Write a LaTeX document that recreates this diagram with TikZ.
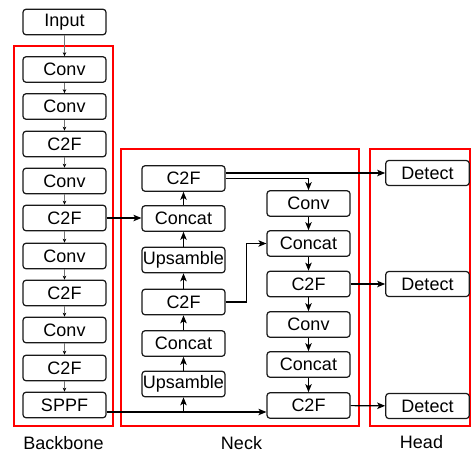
\documentclass[tikz,border=0pt]{standalone}
\usepackage{fontspec}
\setmainfont{Liberation Sans}
\usetikzlibrary{arrows.meta}

\tikzset{
	blk/.style = {draw = black!90, line width = 1.2pt, rounded corners = 3pt, minimum width = 83pt, minimum height = 25.5pt, inner sep = 0pt, font = \fontsize{18}{21}\selectfont},
	frame/.style = {draw = red, line width = 1.8pt},
	thinarr/.style = {draw = black!55, line width = 0.6pt, -{Stealth[length = 4pt, width = 3.5pt, color = black]}},
	arr/.style = {line width = 1.1pt, -{Stealth[length = 8pt, width = 6.5pt, inset = 2pt]}},
	lbl/.style = {font = \fontsize{18}{21}\selectfont}
}

\begin{document}
\begin{tikzpicture}[x = 1pt, y = -1pt]
		\useasboundingbox (0,0) rectangle (471,455);
		% frames
		\draw[frame] (14,46) rectangle (113,426);
		\draw[frame] (121,149) rectangle (359,426);
		\draw[frame] (370,149) rectangle (470,426);
		\node[lbl] (lbb) at (63.5,443) {Backbone};
		\node[lbl] (lnk) at (241.5,443) {Neck};
		\node[lbl] (lhd) at (421.5,442) {Head};
		% backbone
		\node[blk] (in) at (64.5,22) {Input};
		\node[blk] (b1) at (64.5,69.5) {Conv};
		\node[blk] (b2) at (64.5,106.5) {Conv};
		\node[blk] (b3) at (64.5,144) {C2F};
		\node[blk] (b4) at (64.5,181) {Conv};
		\node[blk] (b5) at (64.5,218) {C2F};
		\node[blk] (b6) at (64.5,256) {Conv};
		\node[blk] (b7) at (64.5,293) {C2F};
		\node[blk] (b8) at (64.5,330) {Conv};
		\node[blk] (b9) at (64.5,368) {C2F};
		\node[blk] (b10) at (64.5,405) {SPPF};
		% neck
		\node[blk] (n1) at (183.5,178.5) {C2F};
		\node[blk] (n2) at (183.5,218.5) {Concat};
		\node[blk] (n3) at (183.5,260) {Upsamble};
		\node[blk] (n4) at (183.5,302) {C2F};
		\node[blk] (n5) at (183.5,343.5) {Concat};
		\node[blk] (n6) at (183.5,384) {Upsamble};
		\node[blk] (m1) at (308.5,203.5) {Conv};
		\node[blk] (m2) at (308.5,243.5) {Concat};
		\node[blk] (m3) at (308.5,284) {C2F};
		\node[blk] (m4) at (308.5,324.5) {Conv};
		\node[blk] (m5) at (308.5,364.5) {Concat};
		\node[blk] (m6) at (308.5,405.5) {C2F};
		% head
		\node[blk, minimum width = 83.5pt, minimum height = 25pt] (d1) at (427.5,173) {Detect};
		\node[blk, minimum width = 83.5pt, minimum height = 25pt] (d2) at (427.5,284) {Detect};
		\node[blk, minimum width = 83.5pt, minimum height = 25pt] (d3) at (427.5,406) {Detect};
		% backbone chain
		\draw[thinarr] (in) -- (b1);
		\draw[thinarr] (b1) -- (b2);
		\draw[thinarr] (b2) -- (b3);
		\draw[thinarr] (b3) -- (b4);
		\draw[thinarr] (b4) -- (b5);
		\draw[thinarr] (b5) -- (b6);
		\draw[thinarr] (b6) -- (b7);
		\draw[thinarr] (b7) -- (b8);
		\draw[thinarr] (b8) -- (b9);
		\draw[thinarr] (b9) -- (b10);
		% neck, going up
		\draw[arr] (b5.east) -- (b5.east -| n2.west);
		\draw[arr] (n6) -- (n5);
		\draw[arr] (n5) -- (n4);
		\draw[arr] (n4) -- (n3);
		\draw[arr] (n3) -- (n2);
		\draw[arr] (n2) -- (n1);
		\coordinate (sp) at ([yshift = -7pt]b10.east);
		\draw[arr] (sp) -- (sp -| m6.west);
		\draw[arr] (sp -| n6) -- (n6.south);
		\draw[arr] (n4.east) -- ++(21pt,0) |- (m2.west);
		% neck, going down
		\draw[arr] ([yshift = 5.5pt]n1.east) -- ([yshift = 5.5pt]n1.east -| d1.west);
		\draw[arr] (n1.east) -| (m1.north);
		\draw[arr] (m1) -- (m2);
		\draw[arr] (m2) -- (m3);
		\draw[arr] (m3) -- (m4);
		\draw[arr] (m4) -- (m5);
		\draw[arr] (m5) -- (m6);
		% to head
		\draw[arr] (m3) -- (d2);
		\draw[arr] (m6) -- (d3);
		\end{tikzpicture}
\end{document}
